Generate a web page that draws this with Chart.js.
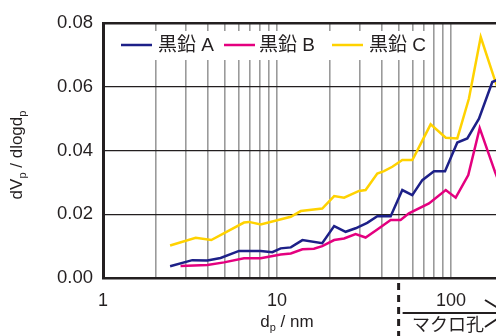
<!DOCTYPE html>
<html>
<head>
<meta charset="utf-8">
<script src="https://cdn.jsdelivr.net/npm/chart.js@4.4.0/dist/chart.umd.min.js"></script>
<style>
  html, body { margin: 0; padding: 0; background: #fff; overflow: hidden; width: 496px; height: 336px; }
  #wrap { position: absolute; left: 0; top: 0; width: 700px; height: 336px; }
</style>
</head>
<body>
<div id="wrap"><canvas id="chart" width="700" height="336"></canvas></div>
<script>
// 細孔径分布 (dp / nm, dVp/dlogdp)
const seriesNames = ['黒鉛 A', '黒鉛 B', '黒鉛 C'];
const colors = ['#1d2088', '#e4007f', '#ffd200'];

const dpA  = [2.43, 3.26, 3.98, 4.74, 6.05, 8.06, 9.40, 10.5, 12.0, 14.0, 18.2, 21.3, 24.8, 28.3, 33.0, 37.7, 45.0, 52.5, 59.9, 68.4, 79.8, 92.4, 108.7, 124.1, 144.8, 172.7, 201.6];
const valA = [0.0037, 0.0056, 0.0055, 0.0063, 0.0085, 0.0085, 0.0081, 0.0093, 0.0096, 0.0119, 0.0109, 0.0163, 0.0145, 0.0156, 0.0173, 0.0194, 0.0194, 0.0276, 0.0260, 0.0307, 0.0335, 0.0335, 0.0425, 0.0438, 0.0500, 0.0615, 0.0630];

const dpB  = [2.79, 3.98, 4.96, 6.46, 8.06, 10.5, 12.0, 14.0, 16.3, 18.2, 21.3, 24.3, 28.3, 32.3, 37.7, 45.0, 51.3, 57.3, 74.7, 93.3, 106.4, 125.7, 146.2, 179.0, 201.6];
const valB = [0.0038, 0.0041, 0.0049, 0.0062, 0.0062, 0.0074, 0.0077, 0.0090, 0.0092, 0.0100, 0.0119, 0.0124, 0.0138, 0.0127, 0.0152, 0.0182, 0.0182, 0.0203, 0.0234, 0.0276, 0.0252, 0.0323, 0.0470, 0.0333, 0.0260];

const dpC  = [2.43, 3.41, 4.19, 6.46, 6.90, 8.06, 12.0, 13.7, 18.2, 21.3, 24.3, 29.6, 32.3, 37.7, 41.2, 46.0, 52.5, 59.9, 61.3, 76.4, 93.3, 108.7, 126.8, 148.2, 179.0, 201.6];
const valC = [0.0102, 0.0126, 0.0119, 0.0174, 0.0176, 0.0168, 0.0192, 0.0210, 0.0218, 0.0257, 0.0252, 0.0273, 0.0276, 0.0328, 0.0335, 0.0349, 0.0370, 0.0370, 0.0380, 0.0482, 0.0440, 0.0438, 0.0563, 0.0756, 0.0620, 0.0540];

const xTicks = [1, 2, 3, 4, 5, 6, 7, 8, 9, 10, 20, 30, 40, 50, 60, 70, 80, 90, 100, 200, 300, 400, 500, 600, 700, 800, 900, 1000];
const xLabels = [1, 10, 100, 1000];
const yTicks = [0, 0.02, 0.04, 0.06, 0.08];
const macroStart = 50; // マクロ孔の境界 (nm)

const ink = '#231f20';
const FONT = '"Liberation Sans", Arial, "Noto Sans CJK JP", sans-serif';

const toPoints = (xs, ys) => xs.map((x, i) => ({ x: x, y: ys[i] }));
const allData = [toPoints(dpA, valA), toPoints(dpB, valB), toPoints(dpC, valC)];

// 凡例・軸タイトル・注記
const extras = {
  id: 'extras',
  afterDraw(chart) {
    const ctx = chart.ctx;
    const xs = chart.scales.x;
    const area = chart.chartArea;
    ctx.save();

    // 凡例 (白背景)
    ctx.fillStyle = '#fff';
    ctx.fillRect(area.left + 2, 31, 328, 29);
    const items = [[121, 158], [224, 259], [332, 369]];
    ctx.font = '19px ' + FONT;
    ctx.textBaseline = 'middle';
    ctx.textAlign = 'left';
    items.forEach((it, i) => {
      ctx.strokeStyle = colors[i];
      ctx.lineWidth = 2.5;
      ctx.beginPath();
      ctx.moveTo(it[0], 45);
      ctx.lineTo(it[0] + 31, 45);
      ctx.stroke();
      ctx.fillStyle = ink;
      ctx.fillText(seriesNames[i], it[1], 46);
    });

    // x 軸タイトル d_p / nm
    ctx.fillStyle = ink;
    ctx.textBaseline = 'alphabetic';
    drawSub(ctx, [['d', 17, 0], ['p', 11, 4], [' / nm', 17, 0]], 287, 327);

    // y 軸タイトル dV_p / dlogd_p
    ctx.save();
    ctx.translate(22, 155);
    ctx.rotate(-Math.PI / 2);
    drawSub(ctx, [['dV', 17, 0], ['p', 11, 4], [' / dlogd', 17, 0], ['p', 11, 4]], 0, 0);
    ctx.restore();

    // マクロ孔 注記
    const bx = xs.getPixelForValue(macroStart);
    ctx.strokeStyle = ink;
    ctx.lineWidth = 3;
    ctx.setLineDash([7, 5]);
    ctx.beginPath();
    ctx.moveTo(bx, area.bottom + 5);
    ctx.lineTo(bx, 340);
    ctx.stroke();
    ctx.setLineDash([]);
    ctx.lineWidth = 2;
    ctx.beginPath();
    ctx.moveTo(bx + 4, 313);
    ctx.lineTo(506, 313);
    ctx.moveTo(485, 300);
    ctx.lineTo(506, 313);
    ctx.lineTo(485, 327);
    ctx.stroke();
    ctx.font = '18px ' + FONT;
    ctx.textAlign = 'left';
    ctx.textBaseline = 'top';
    ctx.fillText('マクロ孔', 412, 317);

    ctx.restore();
  }
};

function drawSub(ctx, parts, cx, baseY) {
  let total = 0;
  parts.forEach(p => { ctx.font = p[1] + 'px ' + FONT; total += ctx.measureText(p[0]).width; });
  let x = cx - total / 2;
  ctx.textAlign = 'left';
  parts.forEach(p => {
    ctx.font = p[1] + 'px ' + FONT;
    ctx.fillText(p[0], x, baseY + p[2]);
    x += ctx.measureText(p[0]).width;
  });
}

new Chart(document.getElementById('chart'), {
  type: 'line',
  data: {
    datasets: allData.map((d, i) => ({
      label: seriesNames[i],
      data: d,
      borderColor: colors[i],
      borderWidth: 2.5,
      pointRadius: 0,
      tension: 0,
      fill: false
    }))
  },
  options: {
    responsive: false,
    animation: false,
    devicePixelRatio: 1,
    layout: { padding: { top: 23, left: 0, right: 75, bottom: 0 } },
    plugins: { legend: { display: false }, tooltip: { enabled: false } },
    scales: {
      x: {
        type: 'logarithmic',
        min: 1,
        max: 1000,
        afterBuildTicks: axis => { axis.ticks = xTicks.map(v => ({ value: v })); },
        afterFit: axis => { axis.height = 58; },
        grid: { color: '#9a9a9a', lineWidth: 1.6, drawTicks: false },
        border: { display: true, color: ink, width: 2.5 },
        ticks: {
          autoSkip: false,
          maxRotation: 0,
          padding: 12,
          color: ink,
          font: { family: FONT, size: 18 },
          callback: v => xLabels.includes(v) ? String(v) : ''
        }
      },
      y: {
        min: 0,
        max: 0.08,
        afterBuildTicks: axis => { axis.ticks = yTicks.map(v => ({ value: v })); },
        afterFit: axis => { axis.width = 103; },
        grid: {
          color: ink,
          lineWidth: c => c.index === yTicks.length - 1 ? 2.5 : 1.2,
          drawTicks: false
        },
        border: { display: true, color: ink, width: 3 },
        ticks: {
          padding: 10,
          color: ink,
          font: { family: FONT, size: 18.5 },
          callback: v => v.toFixed(2)
        }
      }
    }
  },
  plugins: [extras]
});
</script>
</body>
</html>
